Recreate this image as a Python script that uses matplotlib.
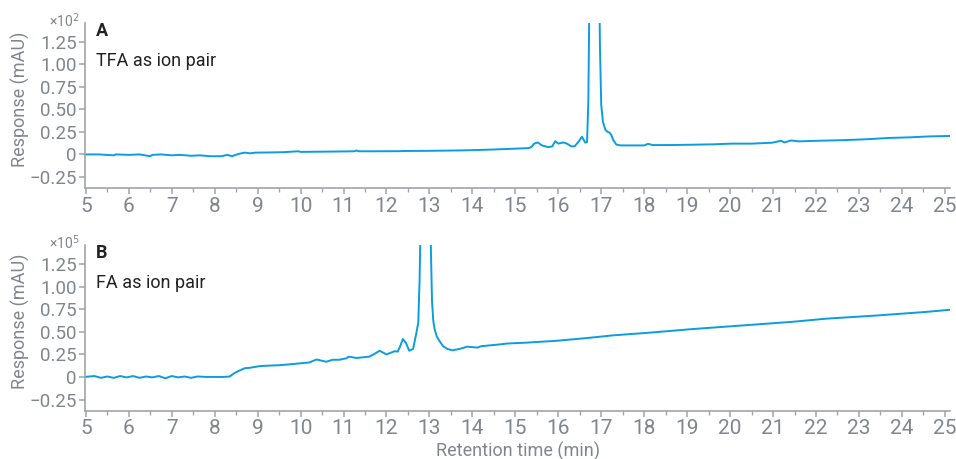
import matplotlib
matplotlib.use("Agg")
import matplotlib.pyplot as plt
from matplotlib.ticker import FixedLocator, FixedFormatter, MultipleLocator

plt.rcParams['font.family'] = ['Roboto', 'DejaVu Sans']

# chromatogram A: TFA as ion pair (response x10^2 mAU)
time_a = [4.98, 5.3, 5.65, 5.7, 6.0, 6.25, 6.5, 6.55, 6.75, 7.0, 7.2, 7.45, 7.65, 7.9, 8.15, 8.3, 8.4,
          8.55, 8.7, 8.82, 8.95, 9.3, 9.6, 9.95, 10.0, 10.4, 10.8, 11.25, 11.3, 11.35, 11.8, 12.3, 12.4,
          13.0, 13.35, 13.8, 14.2, 14.8, 15.3, 15.37, 15.44, 15.52, 15.62, 15.77, 15.86, 15.93, 16.0,
          16.12, 16.2, 16.3, 16.38, 16.47, 16.55, 16.63, 16.67, 16.70, 16.73, 16.8, 16.88, 16.93,
          16.97, 17.0, 17.04, 17.1, 17.15, 17.19, 17.23, 17.28, 17.35, 17.45, 17.6, 18.0,
          18.09, 18.2, 18.6, 19.0, 19.6, 20.05, 20.5, 20.98, 21.19, 21.26, 21.42, 21.6, 22.07, 22.6,
          23.16, 23.7, 24.2, 24.63, 25.12]
resp_a = [0.0, 0.0, -0.01, 0.0, -0.005, 0.0, -0.02, -0.005, 0.0, -0.01, -0.005, -0.015, -0.01, -0.02, -0.02,
          -0.005, -0.02, 0.005, 0.02, 0.012, 0.02, 0.022, 0.025, 0.035, 0.028, 0.03, 0.032, 0.035, 0.044,
          0.035, 0.035, 0.036, 0.038, 0.04, 0.042, 0.045, 0.05, 0.06, 0.07, 0.08, 0.12, 0.133, 0.1, 0.08,
          0.09, 0.147, 0.12, 0.133, 0.12, 0.09, 0.09, 0.14, 0.196, 0.13, 0.14, 0.6, 2.0, 3.5, 3.6,
          3.0, 1.2, 0.55, 0.36, 0.27, 0.25, 0.243, 0.22, 0.16, 0.11, 0.1, 0.1, 0.1, 0.118, 0.104, 0.104,
          0.107, 0.112, 0.12, 0.12, 0.13, 0.152, 0.133, 0.155, 0.145, 0.152, 0.158, 0.168, 0.183, 0.19,
          0.2, 0.205]

# chromatogram B: FA as ion pair (response x10^5 mAU)
time_b = [4.98, 5.2, 5.35, 5.5, 5.65, 5.8, 5.95, 6.1, 6.25, 6.4, 6.55, 6.7, 6.85, 7.0, 7.15, 7.3, 7.45,
          7.6, 7.8, 8.0, 8.2, 8.35, 8.45, 8.55, 8.7, 8.8, 9.05, 9.25, 9.5, 9.75, 9.98, 10.2, 10.37,
          10.6, 10.74, 10.9, 11.07, 11.12, 11.3, 11.6, 11.7, 11.84, 12.0, 12.19, 12.26, 12.32, 12.38,
          12.45, 12.53, 12.62, 12.68, 12.74, 12.77, 12.82, 12.9, 12.98, 13.03, 13.06, 13.09, 13.12,
          13.17, 13.23, 13.32, 13.42, 13.53, 13.7, 13.88, 14.12, 14.2, 14.63, 14.81, 15.26, 15.95,
          16.65, 17.26, 18.12, 19.12, 20.28, 21.44, 22.23, 23.4, 24.56, 25.12]
resp_b = [0.0, 0.01, -0.01, 0.005, -0.01, 0.01, -0.005, 0.01, -0.01, 0.005, -0.005, 0.01, -0.015, 0.01,
          -0.005, 0.005, -0.01, 0.005, 0.0, 0.0, 0.0, 0.005, 0.04, 0.065, 0.097, 0.1, 0.12, 0.125, 0.13,
          0.14, 0.15, 0.16, 0.193, 0.168, 0.19, 0.19, 0.207, 0.225, 0.21, 0.225, 0.25, 0.29, 0.25, 0.285,
          0.28, 0.34, 0.42, 0.38, 0.29, 0.31, 0.45, 0.6, 1.06, 2.4, 3.4, 2.5, 1.5, 0.84, 0.62, 0.53, 0.45,
          0.4, 0.34, 0.31, 0.295, 0.31, 0.335, 0.325, 0.34, 0.36, 0.37, 0.38, 0.4, 0.43, 0.46, 0.49, 0.53,
          0.57, 0.61, 0.645, 0.68, 0.72, 0.744]

panels = [("A", "TFA as ion pair", "\u00d710$^{2}$", time_a, resp_a, [0.950, 0.590]),
          ("B", "FA as ion pair", "\u00d710$^{5}$", time_b, resp_b, [0.466, 0.105])]

x_ticks = list(range(5, 26))
y_ticks = [-0.25, 0, 0.25, 0.5, 0.75, 1.0, 1.25]
y_labels = ["\u22120.25", "0", "0.25", "0.50", "0.75", "1.00", "1.25"]

line_col = '#0a9de0'
grey = '#80868b'
spine_col = '#a0a4a8'

fig = plt.figure(figsize=(9.56, 4.59), dpi=100)

for letter, name, scale, t, r, (top, bottom) in panels:
    ax = fig.add_axes([0.0889, bottom, 0.9048, top - bottom])
    ax.plot(t, r, color=line_col, lw=1.4, solid_joinstyle='round')
    ax.set_xlim(4.98, 25.12)
    ax.set_ylim(-0.375, 1.46)

    for s in ['top', 'right']:
        ax.spines[s].set_visible(False)
    for s in ['left', 'bottom']:
        ax.spines[s].set_color(spine_col)
        ax.spines[s].set_linewidth(1.2)

    ax.xaxis.set_major_locator(FixedLocator(x_ticks))
    ax.xaxis.set_minor_locator(MultipleLocator(0.5))
    ax.yaxis.set_major_locator(FixedLocator(y_ticks))
    ax.yaxis.set_major_formatter(FixedFormatter(y_labels))
    ax.tick_params(axis='x', which='major', length=4, width=1.1, color=spine_col,
                   labelsize=15, labelcolor=grey, pad=2)
    ax.tick_params(axis='x', which='minor', length=3, width=1.0, color=spine_col)
    ax.tick_params(axis='y', which='major', length=4, width=1.1, color=spine_col,
                   labelsize=13.5, labelcolor=grey, pad=2)

    ax.set_ylabel("Response (mAU)", fontsize=13, color=grey)
    ax.yaxis.set_label_coords(-0.075, 0.54)
    ax.yaxis.label.set_verticalalignment('center')

    ax.text(-0.006, 0.978, scale, transform=ax.transAxes, ha='right', va='baseline',
            fontsize=10, color=grey)
    ax.text(0.0125, 0.92, letter, transform=ax.transAxes, ha='left', va='baseline',
            fontsize=13, fontweight='bold', color='#222222')
    ax.text(0.0125, 0.74, name, transform=ax.transAxes, ha='left', va='baseline',
            fontsize=13, color='#222222')

fig.text(518 / 956, 1 - 451 / 459, "Retention time (min)", ha='center', va='center',
         fontsize=13, color=grey)

fig.savefig("out.png", dpi=100)
